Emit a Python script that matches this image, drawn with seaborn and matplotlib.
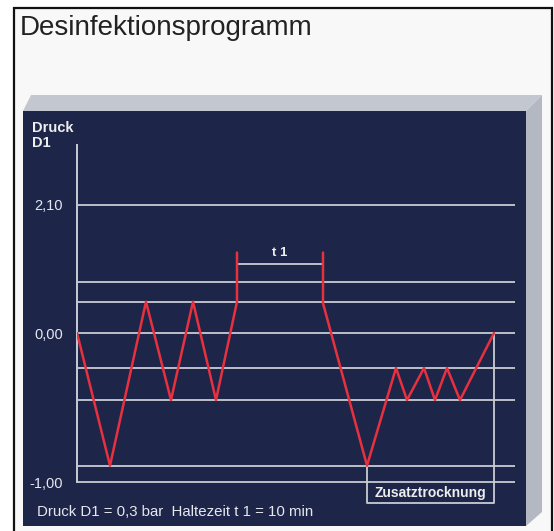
import numpy as np
import pandas as pd
import matplotlib.pyplot as plt
import seaborn as sns
from matplotlib.patches import Polygon, Rectangle

# chart values (schematic pressure units, 0,00 = 0 and -1,00 = -1)
seg1_x = [0.0, 3.3, 6.9, 9.4, 11.6, 13.9, 16.0, 16.0]
seg1_y = [0.0, -0.89, 0.21, -0.45, 0.21, -0.45, 0.21, 0.54]
seg2_x = [24.6, 24.6, 29.0, 31.9, 33.0, 34.7, 35.8, 37.0, 38.3, 41.7]
seg2_y = [0.54, 0.20, -0.89, -0.235, -0.45, -0.235, -0.45, -0.235, -0.45, 0.0]
grid_levels = [0.86, 0.345, 0.21, 0.0, -0.235, -0.45, -0.89, -1.0]
tick_pos = [0.86, 0.0, -1.0]
tick_labels = ["2,10", "0,00", "-1,00"]
t1_start, t1_end, t1_level = 16.0, 24.6, 0.463
dry_start, dry_end, dry_bottom = 29.0, 41.7, -1.14

df = pd.concat([
    pd.DataFrame({"x": seg1_x, "y": seg1_y, "seg": 1}),
    pd.DataFrame({"x": seg2_x, "y": seg2_y, "seg": 2}),
])

sns.set_theme(style="white")
plt.rcParams["font.family"] = ["Liberation Sans", "DejaVu Sans"]

W, H = 554, 531
fig = plt.figure(figsize=(W / 100, H / 100), dpi=100)
fig.patch.set_facecolor("white")

def px(x, y):
    return (x / W, 1 - y / H)

navy = "#1d2649"
side = "#c3c7cf"
bg_patches = [
    Rectangle(px(14, 540), (552 - 14) / W, (540 - 8) / H, facecolor="#f8f8f8",
              edgecolor="#111111", lw=1.6),
    Polygon([px(23, 111), px(526, 111), px(542, 95), px(31, 95)], closed=True,
            facecolor=side, edgecolor="none"),
    Polygon([px(526, 111), px(542, 95), px(542, 512), px(526, 526)], closed=True,
            facecolor="#b4b8c2", edgecolor="none"),
    Rectangle(px(23, 526), (526 - 23) / W, (526 - 111) / H, facecolor=navy,
              edgecolor="none"),
]
for p in bg_patches:
    p.set_transform(fig.transFigure)
    p.set_zorder(-5)
    fig.patches.append(p)

# axes: x 0..43.8 over px 77..515, y -1.25..1.3
ax = fig.add_axes([77 / W, 1 - 519.25 / H, 438 / W, (519.25 - 139.3) / H])
ax.set_zorder(1)
ax.set_facecolor("none")
ax.set_xlim(0, 43.8)
ax.set_ylim(-1.25, 1.3)

line_col = "#c9ccd3"
for lv in grid_levels:
    ax.axhline(lv, color=line_col, lw=1.3, zorder=1)

for s in ["top", "right", "bottom"]:
    ax.spines[s].set_visible(False)
ax.spines["left"].set_color(line_col)
ax.spines["left"].set_linewidth(1.4)
ax.spines["left"].set_bounds(-1.0, 1.26)

ax.set_xticks([])
ax.set_yticks(tick_pos)
ax.set_yticklabels(tick_labels)
ax.tick_params(axis="y", length=0, pad=10, labelsize=10.5, labelcolor="#e6e8ee")

# t1 hold bracket
ax.plot([t1_start, t1_end], [t1_level, t1_level], color=line_col, lw=1.3, zorder=1)
ax.text((t1_start + t1_end) / 2, t1_level + 0.035, "t 1", color="#eeeeee",
        fontsize=9.5, fontweight="bold", ha="center", va="bottom")

# Zusatztrocknung box
ax.plot([dry_start, dry_start, dry_end, dry_end],
        [seg2_y[2], dry_bottom, dry_bottom, 0.0],
        color=line_col, lw=1.3, zorder=1, clip_on=False)
ax.text((dry_start + dry_end) / 2, (dry_bottom - 1.0) / 2 - 0.005, "Zusatztrocknung",
        color="#eeeeee", fontsize=10, fontweight="bold", ha="center", va="center")

sns.lineplot(data=df, x="x", y="y", units="seg", estimator=None, sort=False,
             color="#e8303e", lw=1.8, ax=ax, zorder=3)
ax.set_xlabel("")
ax.set_ylabel("")

fig.text(*px(20, 15), "Desinfektionsprogramm", fontsize=20, color="#222222",
         ha="left", va="top")
fig.text(*px(32, 121), "Druck\nD1", fontsize=10.5, fontweight="bold",
         color="#eeeeee", ha="left", va="top", linespacing=1.1)
fig.text(*px(37, 512), "Druck D1 = 0,3 bar  Haltezeit t 1 = 10 min",
         fontsize=10.8, color="#e6e8ee", ha="left", va="center")

fig.savefig("out.png", dpi=100, facecolor=fig.get_facecolor())
